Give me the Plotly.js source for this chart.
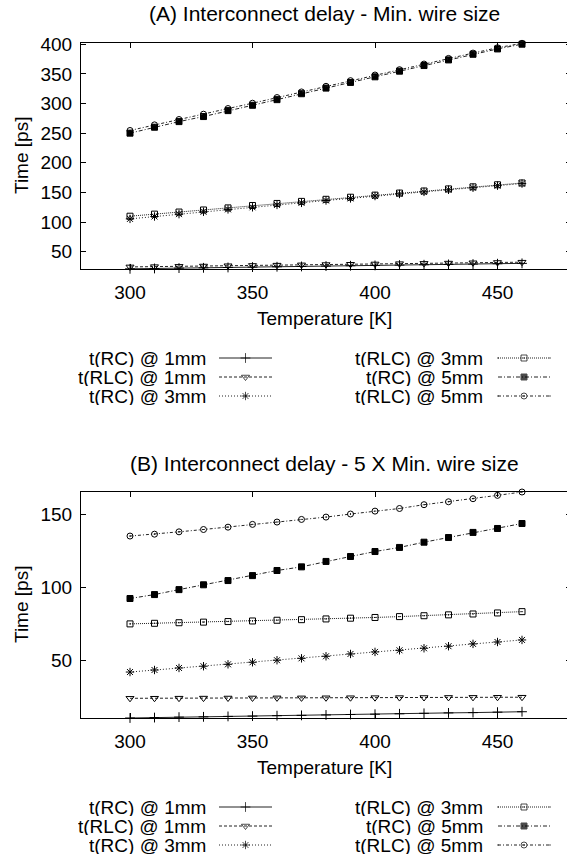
<!DOCTYPE html>
<html>
<head>
<meta charset="utf-8">
<script src="https://cdn.plot.ly/plotly-3.0.1.min.js"></script>
<style>
html,body{margin:0;padding:0;overflow:hidden;background:#fff;}
#chart{width:571px;height:861px;}
</style>
</head>
<body>
<div id="chart"></div>
<script>
// ---- data ----
const temps = [300,310,320,330,340,350,360,370,380,390,400,410,420,430,440,450,460];
const seriesNames = ['t(RC) @ 1mm','t(RLC) @ 1mm','t(RC) @ 3mm','t(RLC) @ 3mm','t(RC) @ 5mm','t(RLC) @ 5mm'];

// Panel A: minimum wire size
const a_rc1  = [21.3,21.9,22.5,23.0,23.6,24.2,24.8,25.3,25.9,26.5,27.0,27.6,28.2,28.7,29.3,29.9,30.5];
const a_rlc1 = [24.5,25.0,25.5,26.0,26.5,27.0,27.5,28.0,28.5,29.0,29.5,30.0,30.5,31.0,31.5,32.0,32.5];
const a_rc3  = [105.5,109.5,113.5,117.5,121.5,125,129,132.5,136.5,140,144,147.5,151,154.5,158,161.5,165];
const a_rlc3 = [110,113.5,117,120.5,124,128,131.5,135,138.5,142,145.5,149,152.5,156,159.5,163,166];
const a_rc5  = [250,260,269.5,278,288,297,306.5,316.5,326,335.5,345,354.5,364,373.5,383,392,400];
const a_rlc5 = [254.5,264,273,282,291.5,300.5,310,319.5,329,338.5,348,357,366.5,376,385,394,401.5];

// Panel B: 5 x minimum wire size
const b_rc1  = [10.7,11.0,11.3,11.5,11.8,12.0,12.3,12.5,12.8,13.1,13.3,13.6,13.9,14.2,14.4,14.7,15.0];
const b_rlc1 = [24.2,24.25,24.3,24.35,24.4,24.45,24.5,24.5,24.55,24.6,24.65,24.7,24.75,24.8,24.85,24.9,24.95];
const b_rc3  = [42.2,43.6,45,46.2,47.5,48.9,50.3,51.6,53,54.6,56,57.1,58.5,59.9,61.5,62.8,64.2];
const b_rlc3 = [75.2,75.6,76.0,76.4,76.8,77.2,77.7,78.1,78.6,79.1,79.6,80.2,80.8,81.4,82.0,82.7,83.6];
const b_rc5  = [92.6,95.3,98.7,102,104.9,108.3,111.8,114.3,118,121.4,124.8,127.6,131.2,134.4,137.9,140.6,144];
const b_rlc5 = [135.4,136.7,138.3,139.9,141.5,143.4,145,146.8,148.4,150.5,152.5,154.3,156.9,158.9,161,163.3,165.6];

const xTicks = [300,350,400,450];
const aYTicks = [50,100,150,200,250,300,350,400];
const bYTicks = [50,100,150];

// ---- styles ----
const W = 571, H = 861;
const FONT = 'Liberation Sans, Arial, Helvetica, sans-serif';
const FS = 19;
const styles = [
  {dash:'solid',               symbol:'cross-thin-open',    size:7},
  {dash:'3px,2px',             symbol:'triangle-down-open', size:7},
  {dash:'1px,2px',             symbol:'asterisk-open',      size:7},
  {dash:'1px,1px',             symbol:'square-open-dot',    size:6},
  {dash:'4px,2px,1px,2px',     symbol:'square',             size:6},
  {dash:'3px,2px,1px,2px',     symbol:'circle-open-dot',    size:6}
];

function mk(x, y, i, xa, ya, sizes) {
  const s = styles[i];
  return {
    x: x, y: y, xaxis: xa, yaxis: ya, type: 'scatter', mode: 'lines+markers',
    showlegend: false, hoverinfo: 'skip', cliponaxis: false,
    line: {color: '#222', width: 1, dash: s.dash},
    marker: {symbol: s.symbol, size: sizes || s.size, color: '#000',
             line: {color: '#000', width: 1}}
  };
}

const aData = [a_rc1, a_rlc1, a_rc3, a_rlc3, a_rc5, a_rlc5];
const bData = [b_rc1, b_rlc1, b_rc3, b_rlc3, b_rc5, b_rlc5];
const traces = [];
aData.forEach((d, i) => traces.push(mk(temps, d, i, 'x', 'y')));
bData.forEach((d, i) => traces.push(mk(temps, d, i, 'x2', 'y2')));

// ---- custom legend (symbol to the right of right-aligned text) ----
const legendRowsTop = [358, 377, 396];
const legendOffsetB = 449;
const colTextRight = [208, 485];
const colSample = [[219, 272], [498, 550]];
const annotations = [];
[0, legendOffsetB].forEach(off => {
  seriesNames.forEach((name, i) => {
    const col = Math.floor(i / 3), row = i % 3;
    const py = legendRowsTop[row] + off;
    const [x0, x1] = colSample[col];
    const s = styles[i];
    traces.push(mk([x0, (x0 + x1) / 2, x1], [py, py, py], i, 'x3', 'y3', [0, s.size, 0]));
    annotations.push({
      x: colTextRight[col] / W, y: 1 - py / H, xref: 'paper', yref: 'paper',
      xanchor: 'right', yanchor: 'middle', showarrow: false, text: name,
      height: 18, valign: 'middle',
      font: {family: FONT, size: FS, color: '#000'}
    });
  });
});

// ---- titles ----
const plotL = 81;
const aTop = 43, aBot = 269, bTop = 492, bBot = 718;
function txt(text, px, py, extra) {
  return Object.assign({x: px / W, y: 1 - py / H, xref: 'paper', yref: 'paper',
    xanchor: 'center', yanchor: 'middle', showarrow: false, text: text,
    font: {family: FONT, size: FS, color: '#000'}}, extra || {});
}
annotations.push(txt('(A) Interconnect delay - Min. wire size', 324, 14, {font: {family: FONT, size: 21, color: '#000'}}));
annotations.push(txt('(B) Interconnect delay - 5 X Min. wire size', 324, 463, {font: {family: FONT, size: 21, color: '#000'}}));
annotations.push(txt('Temperature [K]', 324, 318));
annotations.push(txt('Temperature [K]', 324, 767));
annotations.push(txt('Time [ps]', 21, (aTop + aBot) / 2, {textangle: -90}));
annotations.push(txt('Time [ps]', 21, (bTop + bBot) / 2, {textangle: -90}));

const axisCommon = {
  showgrid: false, zeroline: false, showline: true, linecolor: '#000', linewidth: 1,
  mirror: 'ticks', ticks: 'inside', ticklen: 5, tickwidth: 1, tickcolor: '#000',
  tickfont: {family: FONT, size: FS, color: '#000'}, fixedrange: true
};
const xdom = [plotL / W, 1];
const layout = {
  width: W, height: H, margin: {l: 0, r: 0, t: 0, b: 0},
  paper_bgcolor: '#fff', plot_bgcolor: 'rgba(0,0,0,0)', showlegend: false,
  font: {family: FONT, size: FS, color: '#000'},
  xaxis: Object.assign({}, axisCommon, {domain: xdom, range: [280, 480], tickvals: xTicks, anchor: 'y', ticklabelstandoff: 6}),
  yaxis: Object.assign({}, axisCommon, {domain: [1 - aBot / H, 1 - aTop / H], range: [21, 402], tickvals: aYTicks, anchor: 'x', ticklabelstandoff: 4}),
  xaxis2: Object.assign({}, axisCommon, {domain: xdom, range: [280, 480], tickvals: xTicks, anchor: 'y2', ticklabelstandoff: 6}),
  yaxis2: Object.assign({}, axisCommon, {domain: [1 - bBot / H, 1 - bTop / H], range: [10.7, 165.6], tickvals: bYTicks, anchor: 'x2', ticklabelstandoff: 4}),
  xaxis3: {domain: [0, 1], range: [0, W], visible: false, fixedrange: true, anchor: 'y3'},
  yaxis3: {domain: [0, 1], range: [H, 0], visible: false, fixedrange: true, anchor: 'x3'},
  annotations: annotations
};
Plotly.newPlot('chart', traces, layout, {staticPlot: true, displayModeBar: false});
</script>
</body>
</html>
